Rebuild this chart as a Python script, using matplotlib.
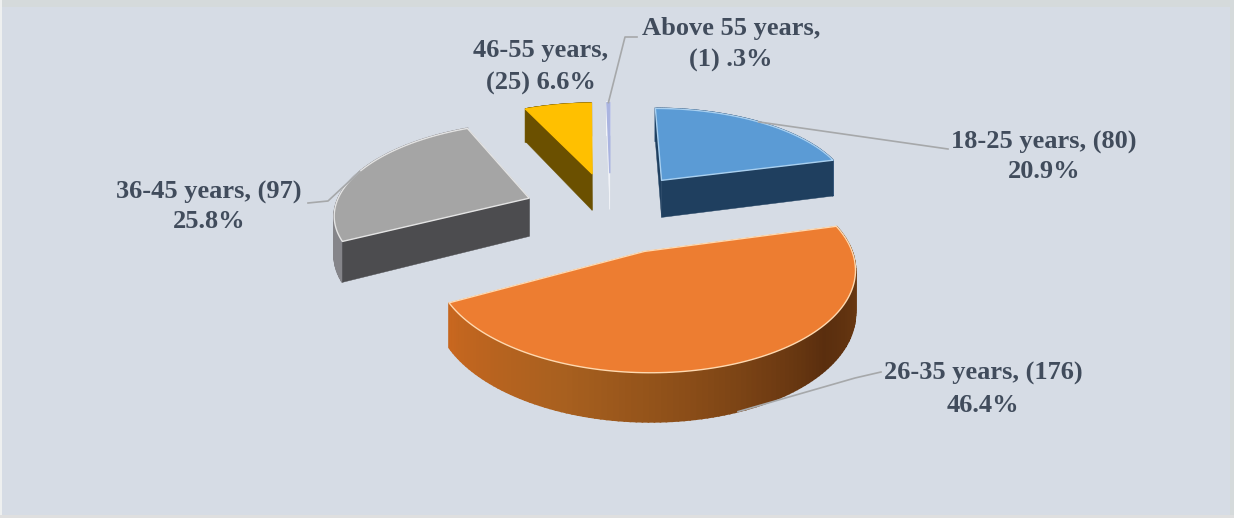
import matplotlib
matplotlib.use("Agg")
import matplotlib.pyplot as plt
import numpy as np
from matplotlib.colors import to_rgb
from matplotlib.patches import Polygon, Rectangle

# Age groups, respondent counts and shares
groups = ["18-25 years", "26-35 years", "36-45 years", "46-55 years", "Above 55 years"]
counts = [80, 176, 97, 25, 1]
percents = [20.9, 46.4, 25.8, 6.6, 0.3]
pct_labels = ["20.9%", "46.4%", "25.8%", "6.6%", ".3%"]

top_colors = ["#5b9bd5", "#ed7d31", "#a5a5a5", "#ffc000", "#aab4e0"]
side_colors = ["#1f3f5f", "#8a4d18", "#4c4c4f", "#6b5000", "#f2f4f8"]
rim_colors = ["#2a5078", None, "#85858a", "#7a5c00", "#f2f4f8"]
edge_colors = ["#a9d0f0", "#ffd9b0", "#e4e4e4", "#ffc000", "#aab4e0"]

# shading along the orange rim, by angle clockwise from the top
rim_angles = [75, 100, 130, 170, 200, 242.5]
rim_shades = ["#7a4213", "#6b3a12", "#5a2e0e", "#8a4d18", "#a8601f", "#c9671f"]

# perspective of the tilted disc, in pixels
CX, CY = 610.6, 211
AX, AY = 195, 90.5
PERSP = 0.145
EXPLODE = 0.45
DEPTH = 39

TEXT_COLOR = "#414c5c"
LEADER_COLOR = "#a6a8aa"


def project(theta, radius, mid, drop=0.0):
    # theta in degrees clockwise from the top of the pie
    t = np.radians(theta)
    m = np.radians(mid)
    x = radius * np.sin(t) + EXPLODE * np.sin(m)
    y = radius * np.cos(t) + EXPLODE * np.cos(m)
    w = 1 + PERSP * y
    return CX + AX * x / w, CY - AY * y / w + drop * DEPTH / w


def arc(start, end, mid, drop=0.0):
    th = np.linspace(start, end, 120)
    return np.column_stack(project(th, 1.0, mid, drop))


def shade_at(theta):
    rgb = np.array([to_rgb(c) for c in rim_shades])
    return [np.interp(theta, rim_angles, rgb[:, i]) for i in range(3)]


fig = plt.figure(figsize=(12.34, 5.18), dpi=100, facecolor="#d5dadb")
ax = fig.add_axes([0, 0, 1, 1])
ax.set_xlim(0, 1234)
ax.set_ylim(518, 0)
ax.axis("off")
ax.add_patch(Rectangle((0, 0), 2, 518, facecolor="#eef0f0", edgecolor="none", zorder=0))
ax.add_patch(Rectangle((0, 515), 1234, 3, facecolor="#dfdfdf", edgecolor="none", zorder=0))
ax.add_patch(Rectangle((2, 7), 1228, 508, facecolor="#d6dce5", edgecolor="none", zorder=0.5))

edges = np.concatenate([[0], np.cumsum(percents) * 3.6])
edges[-1] = 360

for i in range(len(groups)):
    start, end = edges[i], edges[i + 1]
    mid = (start + end) / 2
    apex_top = np.array(project(0, 0.0, mid))
    apex_low = np.array(project(0, 0.0, mid, 1.0))
    top = arc(start, end, mid)
    low = arc(start, end, mid, 1.0)
    z = 2 + i

    # outer rim, drawn in short strips so it can carry a shading
    th = np.linspace(start, end, 120)
    for k in range(len(th) - 1):
        color = rim_colors[i] if rim_colors[i] else shade_at(th[k])
        quad = [top[k], top[k + 1], low[k + 1], low[k]]
        ax.add_patch(Polygon(quad, closed=True, facecolor=color, edgecolor=color,
                             lw=1.2, zorder=z))

    # cut faces: those turned away from the viewer go behind the rim
    for j, normal in ((0, start - 90), (-1, end + 90)):
        facing = np.cos(np.radians(normal)) < 1e-6
        face = [apex_top, top[j], low[j], apex_low]
        ax.add_patch(Polygon(face, closed=True, facecolor=side_colors[i],
                             edgecolor=side_colors[i], lw=0.3,
                             zorder=z + 0.2 if facing else z - 0.2))

    ax.add_patch(Polygon(np.vstack([apex_top, top]), closed=True, facecolor=top_colors[i],
                         edgecolor=edge_colors[i], lw=1.0, joinstyle="round", zorder=z + 0.5))

# leader lines start on the slice edge at the slice's middle angle
mids = (edges[:-1] + edges[1:]) / 2
x0, y0 = project(mids[0], 1.0, mids[0])
ax.plot([x0, 948], [y0, 149], color=LEADER_COLOR, lw=1.2, zorder=9)
x1, y1 = project(mids[1], 1.0, mids[1], 1.0)
ax.plot([x1, 855, 881], [y1, 378, 372], color=LEADER_COLOR, lw=1.2, zorder=9)
x2, y2 = project(mids[2], 1.0, mids[2])
ax.plot([x2, 328, 308], [y2, 201, 203], color=LEADER_COLOR, lw=1.2, zorder=9)
x4, y4 = project(mids[4], 1.0, mids[4])
ax.plot([x4, 625, 637], [y4, 37, 37], color=LEADER_COLOR, lw=1.2, zorder=9)

font = dict(family="Liberation Serif", fontweight="bold", fontsize=19, color=TEXT_COLOR,
            ha="center", va="center", zorder=10)
ax.text(1044, 142, f"{groups[0]}, ({counts[0]})", **font)
ax.text(1044, 172, pct_labels[0], **font)
ax.text(983, 373, f"{groups[1]}, ({counts[1]})", **font)
ax.text(983, 406, pct_labels[1], **font)
ax.text(209, 192, f"{groups[2]}, ({counts[2]})", **font)
ax.text(209, 222, pct_labels[2], **font)
ax.text(541, 51, f"{groups[3]},", **font)
ax.text(541, 83, f"({counts[3]}) {pct_labels[3]}", **font)
ax.text(731, 29, f"{groups[4]},", **font)
ax.text(731, 60, f"({counts[4]}) {pct_labels[4]}", **font)

fig.savefig("out.png", dpi=100)
